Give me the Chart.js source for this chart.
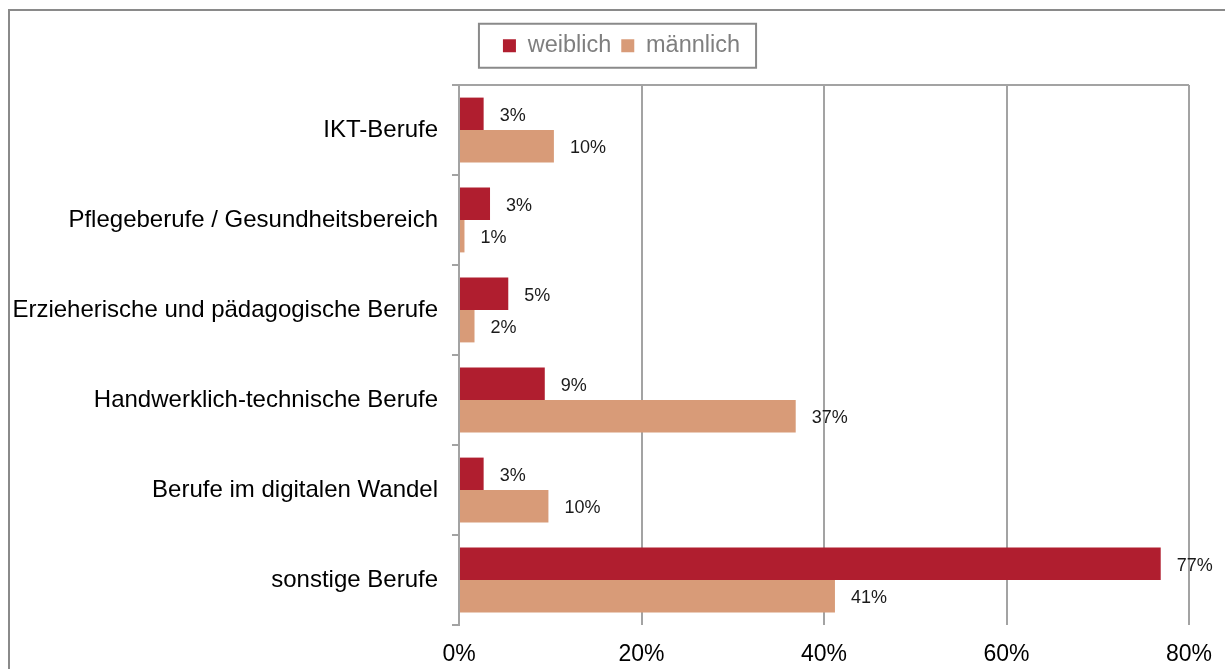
<!DOCTYPE html>
<html>
<head>
<meta charset="utf-8">
<script src="https://cdn.jsdelivr.net/npm/chart.js@4"></script>
<style>
  html, body { margin: 0; padding: 0; background: #fff; overflow: hidden; }
  #wrap { position: relative; width: 1225px; height: 669px; }
</style>
</head>
<body>
<div id="wrap"><canvas id="chart"></canvas></div>
<script>
const categories = [
  'IKT-Berufe',
  'Pflegeberufe / Gesundheitsbereich',
  'Erzieherische und pädagogische Berufe',
  'Handwerklich-technische Berufe',
  'Berufe im digitalen Wandel',
  'sonstige Berufe'
];
const weiblich = [2.7, 3.4, 5.4, 9.4, 2.7, 76.9];
const maennlich = [10.4, 0.6, 1.7, 36.9, 9.8, 41.2];
const xTicks = [0, 20, 40, 60, 80];

const GRID = '#a3a3a3';
Chart.defaults.font.family = "'Liberation Sans', Arial, sans-serif";

// outer frame like the exported chart
const frame = {
  id: 'frame',
  beforeDraw(chart) {
    const ctx = chart.ctx;
    ctx.save();
    ctx.strokeStyle = '#8a8a8a';
    ctx.lineWidth = 2;
    ctx.strokeRect(9, 10, 1300, 700);
    ctx.restore();
  }
};

// legend: fixed height, nudged right, framed
const legendBox = {
  id: 'legendBox',
  beforeInit(chart) {
    const fit = chart.legend.fit;
    chart.legend.fit = function () {
      fit.call(this);
      this.height = 61;
    };
  },
  afterLayout(chart) {
    chart.legend.left += 27;
    chart.legend.right += 27;
  },
  afterDraw(chart) {
    const boxes = chart.legend.legendHitBoxes;
    if (!boxes || !boxes.length) return;
    const first = boxes[0], last = boxes[boxes.length - 1];
    const cy = first.top + first.height / 2;
    const ctx = chart.ctx;
    ctx.save();
    ctx.strokeStyle = '#8a8a8a';
    ctx.lineWidth = 2;
    const l = first.left - 24, r = last.left + last.width + 16;
    ctx.strokeRect(l, cy - 22, r - l, 44);
    ctx.restore();
  }
};

// value labels right of each bar
const valueLabels = {
  id: 'valueLabels',
  afterDatasetsDraw(chart) {
    const ctx = chart.ctx;
    ctx.save();
    ctx.font = "18px 'Liberation Sans', Arial, sans-serif";
    ctx.fillStyle = '#1a1a1a';
    ctx.textBaseline = 'middle';
    ctx.textAlign = 'left';
    chart.data.datasets.forEach((ds, di) => {
      chart.getDatasetMeta(di).data.forEach((el, i) => {
        ctx.fillText(Math.round(ds.data[i]) + '%', el.x + 16, el.y + 2);
      });
    });
    ctx.restore();
  }
};

new Chart(document.getElementById('chart'), {
  type: 'bar',
  data: {
    labels: categories,
    datasets: [
      {
        label: 'weiblich',
        data: weiblich,
        backgroundColor: '#b01e2f',
        borderWidth: 0,
        categoryPercentage: 0.72,
        barPercentage: 1
      },
      {
        label: 'männlich',
        data: maennlich,
        backgroundColor: '#d89b78',
        borderWidth: 0,
        categoryPercentage: 0.72,
        barPercentage: 1
      }
    ]
  },
  options: {
    indexAxis: 'y',
    responsive: true,
    maintainAspectRatio: false,
    animation: false,
    layout: { padding: { left: 0, right: 36, top: 24, bottom: 0 } },
    plugins: {
      legend: {
        position: 'top',
        labels: {
          boxWidth: 13,
          boxHeight: 13,
          padding: 10,
          color: '#7f7f7f',
          font: { size: 23.5 }
        }
      },
      tooltip: { enabled: false }
    },
    scales: {
      x: {
        min: 0,
        max: 80,
        afterBuildTicks: s => { s.ticks = xTicks.map(v => ({ value: v })); },
        afterFit: s => {
          s.height = 44;
          s.paddingLeft = 0;
          s.paddingRight = 0;
        },
        ticks: {
          padding: 16,
          color: '#000',
          font: { size: 23 },
          callback: v => v + '%'
        },
        grid: { color: GRID, lineWidth: 2, drawTicks: false },
        border: { display: false }
      },
      y: {
        afterFit: s => { s.width = 459; },
        ticks: {
          padding: 14,
          color: '#000',
          font: { size: 24 }
        },
        grid: {
          offset: true,
          tickLength: 7,
          lineWidth: 2,
          tickColor: GRID,
          color: c => (c.index === 0 ? GRID : 'rgba(0,0,0,0)')
        },
        border: { display: true, color: GRID, width: 2 }
      }
    }
  },
  plugins: [frame, legendBox, valueLabels]
});
</script>
</body>
</html>
